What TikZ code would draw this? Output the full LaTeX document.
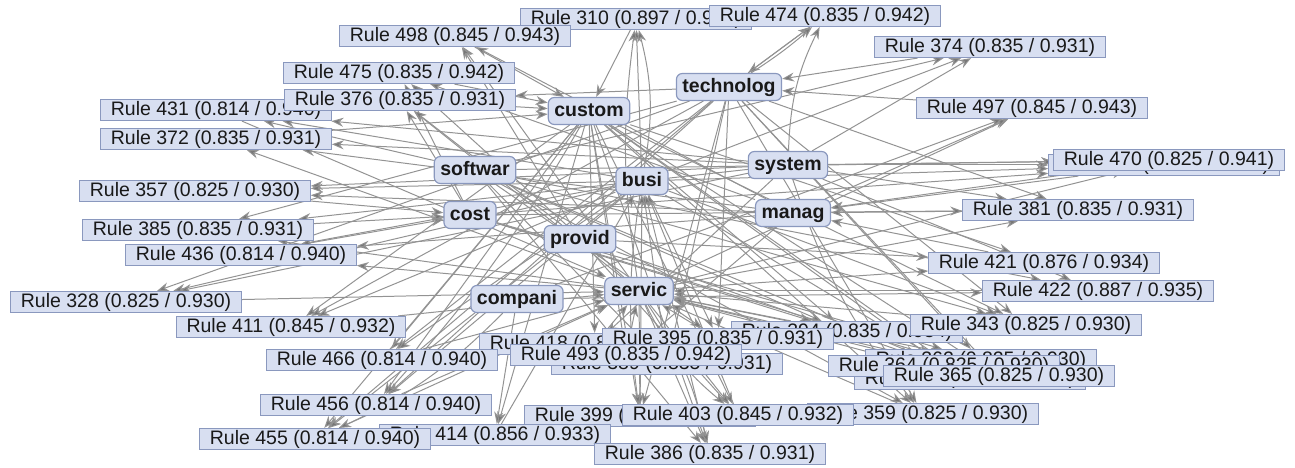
\documentclass[tikz,border=0pt]{standalone}
\usepackage{fontspec}
\setmainfont{Liberation Sans}
\usetikzlibrary{arrows.meta}
\definecolor{boxfill}{HTML}{D8DFF1}
\definecolor{boxline}{HTML}{8A98BE}
\definecolor{edgegray}{HTML}{939393}
\definecolor{tipgray}{HTML}{767676}
\tikzset{
  rulebox/.style={draw=boxline, fill=boxfill, line width=1.2pt, inner xsep=10bp, inner ysep=0pt,
    minimum height=21bp, text height=14bp, text depth=3.5bp, text=black!90,
    font=\fontsize{19.5bp}{21bp}\selectfont},
  termbox/.style={rulebox, rounded corners=6bp, minimum height=27bp, inner xsep=6bp,
    font=\fontsize{19.5bp}{21bp}\selectfont\bfseries},
  link/.style={draw=edgegray, line width=1pt, -{Stealth[length=12bp,width=9bp,fill=tipgray]}}
}
\begin{document}
\begin{tikzpicture}[x=1bp, y=-1bp]
  \pgfdeclarelayer{bg}    % edges go behind the boxes
  \pgfsetlayers{bg,main}
  \useasboundingbox (0,0) rectangle (1295,468);
  % term nodes
  \foreach \N/\X/\Y in {custom/589/111, technolog/729/87, softwar/475/170, busi/642/181, system/788/165,
      cost/470/215, manag/793/213, provid/580/239, servic/639/291, compani/517/299}
      \node[termbox] (\N) at (\X,\Y) {\N};
  % rule nodes, in stacking order
  \foreach \N/\X/\Y/\S/\C in {310/636/19/0.897/0.936, 474/825/16/0.835/0.942, 498/455/36/0.845/0.943,
      374/990/47/0.835/0.931, 475/399/73/0.835/0.942, 431/216/110/0.814/0.940, 376/400/100/0.835/0.931,
      372/216/139/0.835/0.931, 497/1032/108/0.845/0.943, 380/1164/165/0.825/0.941, 470/1169/160/0.825/0.941,
      357/195/191/0.825/0.930, 381/1078/210/0.835/0.931, 385/198/230/0.835/0.931, 436/241/255/0.814/0.940,
      421/1044/263/0.876/0.934, 422/1098/291/0.887/0.935, 328/126/302/0.825/0.930, 411/291/327/0.845/0.932,
      394/847/332/0.835/0.934, 418/595/344/0.845/0.932, 389/667/364/0.835/0.931, 395/718/339/0.835/0.931,
      466/382/360/0.814/0.940, 493/626/355/0.835/0.942, 343/1026/325/0.825/0.930, 362/981/360/0.825/0.930,
      361/970/379/0.825/0.930, 364/944/366/0.825/0.930, 365/999/376/0.825/0.930, 456/376/405/0.814/0.940,
      359/923/414/0.825/0.930, 399/640/416/0.835/0.931, 403/738/415/0.845/0.932, 414/495/435/0.856/0.933,
      455/315/439/0.814/0.940, 386/710/454/0.835/0.931}
      \node[rulebox] (r\N) at (\X,\Y) {Rule \N{} (\S{} / \C)};
  % links: antecedents -> rule -> consequent
  \begin{pgfonlayer}{bg}
      \foreach \R/\C/\L in {310/custom/{busi}, 474/technolog/{technolog}, 498/custom/{servic,provid,manag},
          374/technolog/{busi,system,softwar}, 475/custom/{servic,cost,manag}, 431/servic/{softwar,busi,system},
          376/custom/{servic,provid,cost,technolog}, 372/custom/{servic,manag,system}, 497/technolog/{servic,manag,compani},
          380/manag/{system,busi,cost}, 470/manag/{system,servic,softwar}, 357/cost/{system,busi,manag},
          381/manag/{system,servic,technolog,cost}, 385/cost/{servic,technolog,system}, 436/cost/{manag,servic,busi},
          421/manag/{servic,provid,custom}, 422/servic/{system,compani,softwar}, 328/servic/{technolog,busi,system},
          411/servic/{custom,technolog,busi}, 394/servic/{custom,softwar,cost}, 418/servic/{custom,system},
          389/busi/{softwar,technolog}, 395/servic/{busi,technolog,softwar}, 466/servic/{custom,technolog,busi},
          493/servic/{custom,manag}, 343/servic/{custom,technolog,busi,softwar}, 362/servic/{technolog,cost},
          361/servic/{custom,busi}, 364/servic/{custom,softwar,provid}, 365/servic/{custom,technolog,cost},
          456/servic/{custom,busi,technolog}, 359/servic/{custom,technolog,softwar}, 399/busi/{technolog,custom,servic},
          403/busi/{custom,provid,servic}, 414/busi/{compani,custom}, 455/servic/{technolog,busi,custom},
          386/busi/{softwar,custom,servic}}
          {
          \draw[link] (r\R) -- (\C);
          \foreach \A in \L
              \draw[link] (\A) -- (r\R);
          }
      % the curved ones
      \foreach \A/\B/\Bend in {servic/r310/8, busi/r310/-12, system/r474/12, technolog/r474/-4,
          servic/r386/10, servic/r403/-12, compani/r455/10, busi/r399/-8, custom/r456/6, system/r359/-10}
          \draw[link] (\A) to[bend left=\Bend] (\B);
  \end{pgfonlayer}
\end{tikzpicture}
\end{document}
